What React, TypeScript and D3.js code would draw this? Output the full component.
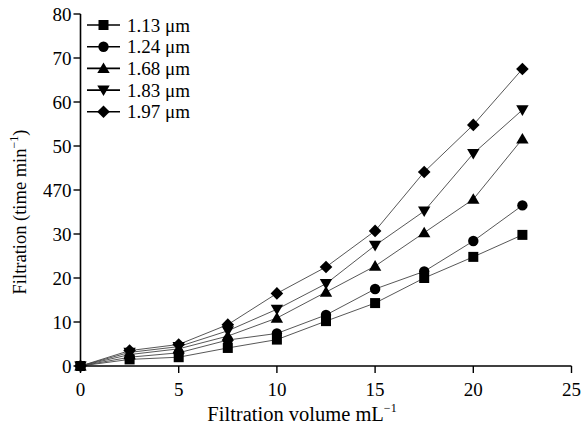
import React from "react";
import * as d3 from "d3";

const xValues = [0, 2.5, 5, 7.5, 10, 12.5, 15, 17.5, 20, 22.5];
const seriesNames = ["1.13 μm", "1.24 μm", "1.68 μm", "1.83 μm", "1.97 μm"];
const s113 = [0, 1.5, 2.0, 4.1, 6.0, 10.2, 14.3, 20.0, 24.8, 29.8];
const s124 = [0, 2.0, 3.0, 5.9, 7.4, 11.6, 17.5, 21.5, 28.4, 36.5];
const s168 = [0, 2.6, 3.9, 6.8, 10.9, 16.8, 22.7, 30.3, 37.9, 51.6];
const s183 = [0, 3.1, 4.4, 8.0, 12.9, 18.7, 27.4, 35.2, 48.3, 58.2];
const s197 = [0, 3.5, 4.9, 9.4, 16.5, 22.5, 30.7, 44.1, 54.8, 67.5];
const yTickLabels = ["0", "10", "20", "30", "470", "50", "60", "70", "80"];
const yTickValues = [0, 10, 20, 30, 40, 50, 60, 70, 80];
const xTickValues = [0, 5, 10, 15, 20, 25];
const markerKinds = ["square", "circle", "up", "down", "diamond"];

const allSeries = [s113, s124, s168, s183, s197];
const font = "'Liberation Serif', 'Times New Roman', serif";

function markerPath(kind: string): string {
  const p = d3.path();
  if (kind === "square") {
    p.rect(-5, -5, 10, 10);
  } else if (kind === "circle") {
    p.arc(0, 0, 5.2, 0, Math.PI * 2);
  } else if (kind === "up") {
    p.moveTo(0, -6);
    p.lineTo(6.2, 4.6);
    p.lineTo(-6.2, 4.6);
    p.closePath();
  } else if (kind === "down") {
    p.moveTo(0, 6);
    p.lineTo(6.2, -4.6);
    p.lineTo(-6.2, -4.6);
    p.closePath();
  } else {
    p.moveTo(0, -6.3);
    p.lineTo(6.3, 0);
    p.lineTo(0, 6.3);
    p.lineTo(-6.3, 0);
    p.closePath();
  }
  return p.toString();
}

function Marker({ kind, x, y }: { kind: string; x: number; y: number }) {
  return <path d={markerPath(kind)} transform={`translate(${x},${y})`} fill="#000" />;
}

export default function App() {
  const W = 582, H = 427;
  const x = d3.scaleLinear().domain([0, 25]).range([80.5, 571.5]);
  const y = d3.scaleLinear().domain([0, 80]).range([366, 14]);
  const line = d3.line<number>().x((_, i) => x(xValues[i])).y((d) => y(d));

  return (
    <svg width={W} height={H} style={{ position: "absolute", left: 0, top: 0 }} fontFamily={font}>
      <rect width={W} height={H} fill="#fff" />
      {allSeries.map((s, si) => (
        <path key={"l" + si} d={line(s) || ""} fill="none" stroke="#444" strokeWidth={0.9} />
      ))}
      {allSeries.map((s, si) =>
        s.map((v, i) => <Marker key={`m${si}-${i}`} kind={markerKinds[si]} x={x(xValues[i])} y={y(v)} />)
      )}
      {/* axes */}
      <line x1={x(0)} x2={x(0)} y1={y(80)} y2={y(0) + 3} stroke="#000" strokeWidth={1.6} />
      <line x1={x(0) - 2} x2={x(25)} y1={y(0)} y2={y(0)} stroke="#000" strokeWidth={1.6} />
      {yTickValues.map((v, i) => (
        <g key={"yt" + i}>
          <line x1={x(0) - 7} x2={x(0)} y1={y(v)} y2={y(v)} stroke="#000" strokeWidth={1.4} />
          <text x={x(0) - 9} y={y(v)} dy="0.35em" textAnchor="end" fontSize={19}>
            {yTickLabels[i]}
          </text>
        </g>
      ))}
      {xTickValues.map((v) => (
        <g key={"xt" + v}>
          <line x1={x(v)} x2={x(v)} y1={y(0)} y2={y(0) + 7} stroke="#000" strokeWidth={1.4} />
          <text x={x(v)} y={396} textAnchor="middle" fontSize={19}>
            {v}
          </text>
        </g>
      ))}
      <text x={302} y={421} textAnchor="middle" fontSize={20.5}>
        Filtration volume mL
        <tspan dy={-9} fontSize={12}>−1</tspan>
      </text>
      <text transform={`translate(26,${212}) rotate(-90)`} textAnchor="middle" fontSize={18.5}>
        Filtration (time min
        <tspan dy={-8} fontSize={12}>−1</tspan>
        <tspan dy={8}>)</tspan>
      </text>
      {/* legend */}
      {seriesNames.map((n, i) => {
        const ly = 25 + i * 21.7;
        return (
          <g key={"lg" + i}>
            <line x1={87} x2={120} y1={ly} y2={ly} stroke="#000" strokeWidth={1.6} />
            <Marker kind={markerKinds[i]} x={103.5} y={ly} />
            <text x={127} y={ly} dy="0.35em" fontSize={19}>
              {n}
            </text>
          </g>
        );
      })}
    </svg>
  );
}
